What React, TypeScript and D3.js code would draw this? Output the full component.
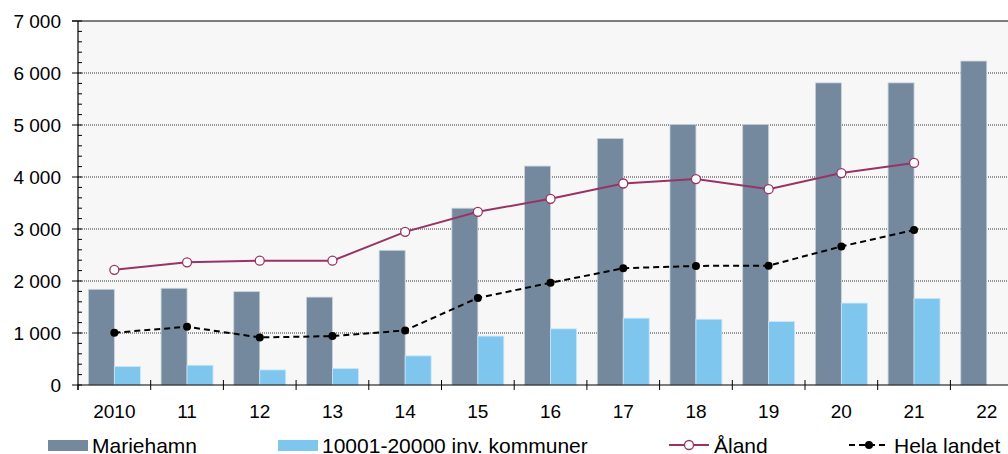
import React from "react";
import * as d3 from "d3";

const categories = ["2010", "11", "12", "13", "14", "15", "16", "17", "18", "19", "20", "21", "22"];
const mariehamn = [1840, 1860, 1795, 1690, 2590, 3400, 4210, 4740, 5010, 5010, 5810, 5810, 6230];
const kommuner = [355, 380, 290, 315, 560, 940, 1080, 1285, 1265, 1220, 1575, 1665, null];
const aland = [2215, 2360, 2390, 2390, 2945, 3330, 3580, 3875, 3960, 3765, 4075, 4270, null];
const helaLandet = [1005, 1120, 915, 940, 1050, 1675, 1965, 2245, 2290, 2295, 2665, 2980, null];
const yTicks = [0, 1000, 2000, 3000, 4000, 5000, 6000, 7000];
const minorTicks = d3.range(0, 7001, 200);

const W = 1008;
const H = 454;
const left = 78;
const plotRight = 78 + 13 * 72.7;
const top = 21;
const bottom = 385;

const fmt = (v: number) => (v === 0 ? "0" : d3.format(",")(v).replace(",", " "));

export default function App() {
  const x = d3.scaleBand<string>().domain(categories).range([left, plotRight]).paddingInner(0).paddingOuter(0);
  const sub = d3.scaleBand<string>().domain(["m", "k"]).range([0, x.bandwidth()]).paddingInner(0).paddingOuter(0.4);
  const y = d3.scaleLinear().domain([0, 7000]).range([bottom, top]);
  const cx = (c: string) => (x(c) as number) + x.bandwidth() / 2;

  const line = d3
    .line<[string, number | null]>()
    .defined((d) => d[1] != null)
    .x((d) => cx(d[0]))
    .y((d) => y(d[1] as number));

  const alandPts = categories.map((c, i) => [c, aland[i]] as [string, number | null]);
  const helaPts = categories.map((c, i) => [c, helaLandet[i]] as [string, number | null]);

  const font = "'Liberation Sans', Arial, sans-serif";
  const tickFs = 19;
  const legFs = 21;

  return (
    <svg width={W} height={H} style={{ position: "absolute", left: 0, top: 0 }} fontFamily={font}>
      <rect x={left} y={top} width={plotRight - left} height={bottom - top} fill="#f7f7f7" />
      {yTicks.filter((t) => t > 0 && t < 7000).map((t) => (
        <line key={t} x1={left} x2={W} y1={y(t)} y2={y(t)} stroke="#333" strokeWidth={1} strokeDasharray="1,1" />
      ))}
      <line x1={72} x2={W} y1={y(7000)} y2={y(7000)} stroke="#000" strokeWidth={1.2} />
      {categories.map((c, i) => (
        <g key={c}>
          <rect
            x={(x(c) as number) + (sub("m") as number)}
            y={y(mariehamn[i])}
            width={sub.bandwidth()}
            height={bottom - y(mariehamn[i])}
            fill="#74899e"
            stroke="#c9d3dc"
            strokeWidth={0.8}
          />
          {kommuner[i] != null && (
            <rect
              x={(x(c) as number) + (sub("k") as number)}
              y={y(kommuner[i] as number)}
              width={sub.bandwidth()}
              height={bottom - y(kommuner[i] as number)}
              fill="#7fc6ee"
              stroke="#c8e6f8"
              strokeWidth={0.8}
            />
          )}
        </g>
      ))}
      <path d={line(alandPts) || ""} fill="none" stroke="#993366" strokeWidth={2} />
      {alandPts.filter((d) => d[1] != null).map((d) => (
        <circle key={d[0]} cx={cx(d[0])} cy={y(d[1] as number)} r={4.5} fill="#fff" stroke="#993366" strokeWidth={1.3} />
      ))}
      <path d={line(helaPts) || ""} fill="none" stroke="#000" strokeWidth={2} strokeDasharray="6,4" />
      {helaPts.filter((d) => d[1] != null).map((d) => (
        <circle key={d[0]} cx={cx(d[0])} cy={y(d[1] as number)} r={4} fill="#000" />
      ))}
      {/* y axis */}
      <line x1={left} x2={left} y1={top} y2={bottom + 5} stroke="#000" strokeWidth={1.2} />
      {minorTicks.map((t) => (
        <line key={"m" + t} x1={left} x2={left + 4} y1={y(t)} y2={y(t)} stroke="#000" strokeWidth={1} />
      ))}
      {yTicks.map((t) => (
        <g key={t}>
          <line x1={72} x2={left} y1={y(t)} y2={y(t)} stroke="#000" strokeWidth={1} />
          <text x={61} y={y(t)} dy="0.35em" textAnchor="end" fontSize={tickFs} fill="#000">
            {fmt(t)}
          </text>
        </g>
      ))}
      {/* x axis */}
      <line x1={left} x2={W} y1={bottom} y2={bottom} stroke="#000" strokeWidth={1.2} />
      {categories.map((c, i) => (
        <line key={"t" + c} x1={x(c) as number} x2={x(c) as number} y1={i === 0 ? bottom : bottom - 5} y2={bottom + 5} stroke="#000" strokeWidth={1} />
      ))}
      {categories.map((c) => (
        <text key={"l" + c} x={cx(c)} y={418} textAnchor="middle" fontSize={tickFs} fill="#000">
          {c}
        </text>
      ))}
      {/* legend */}
      <rect x={48} y={440} width={40} height={11} fill="#74899e" />
      <text x={92} y={453} fontSize={legFs} fill="#000">Mariehamn</text>
      <rect x={278} y={440} width={40} height={11} fill="#7fc6ee" />
      <text x={322} y={453} fontSize={legFs} fill="#000">10001-20000 inv. kommuner</text>
      <line x1={669} x2={709} y1={445} y2={445} stroke="#993366" strokeWidth={2} />
      <circle cx={689} cy={445} r={4.5} fill="#fff" stroke="#993366" strokeWidth={1.3} />
      <text x={714} y={453} fontSize={legFs} fill="#000">Åland</text>
      <line x1={849} x2={889} y1={445} y2={445} stroke="#000" strokeWidth={2} strokeDasharray="6,4" />
      <circle cx={869} cy={445} r={4} fill="#000" />
      <text x={894} y={453} fontSize={legFs} fill="#000">Hela landet</text>
    </svg>
  );
}
